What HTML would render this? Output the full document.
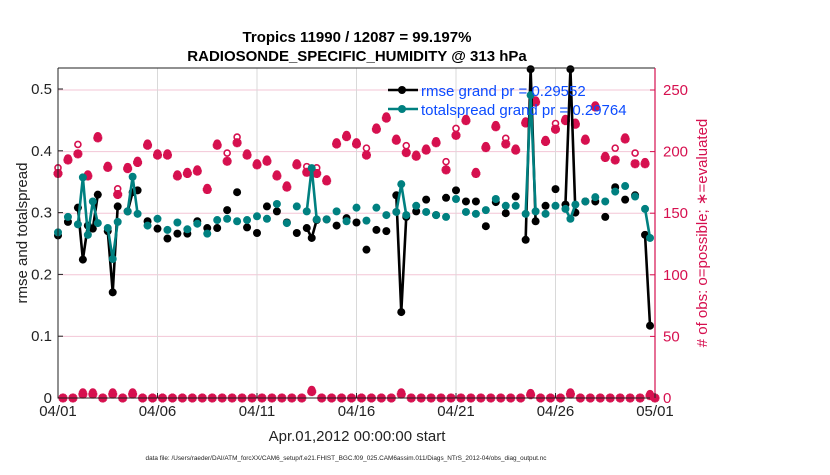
<!DOCTYPE html>
<html><head><meta charset="utf-8"><style>
body{margin:0;background:#fff;}
svg text{font-family:"Liberation Sans",sans-serif;}
</style></head><body>
<svg id="chart" width="830" height="470" xmlns="http://www.w3.org/2000/svg">
<rect width="830" height="470" fill="#fff"/>
<g id="grid"></g>
<g id="marks"></g>
<g id="axes"></g>
</svg>
<script>
// main series (days since 04/01 00Z)
const times = [0,0.5,1,1.25,1.5,1.75,2,2.5,2.75,3,3.5,3.75,4,4.5,5,5.5,6,6.5,7,7.5,8,8.5,9,9.5,10,10.5,11,11.5,12,12.5,12.75,13,13.5,14,14.5,15,15.5,16,16.5,17,17.25,17.5,18,18.5,19,19.5,20,20.5,21,21.5,22,22.5,23,23.5,23.75,24,24.5,25,25.5,25.75,26,26.5,27,27.5,28,28.5,29,29.5,29.75];
const rmse = [0.263,0.285,0.308,0.224,0.279,0.274,0.329,0.270,0.171,0.310,0.302,0.333,0.336,0.286,0.274,0.258,0.266,0.266,0.286,0.275,0.275,0.304,0.333,0.276,0.267,0.310,0.302,0.284,0.267,0.275,0.259,0.288,0.289,0.279,0.291,0.284,0.240,0.272,0.270,0.328,0.139,0.293,0.302,0.321,0.296,0.324,0.336,0.318,0.318,0.278,0.317,0.299,0.326,0.256,0.532,0.286,0.311,0.338,0.313,0.532,0.300,0.318,0.318,0.293,0.341,0.321,0.328,0.264,0.117];
const spread = [0.268,0.293,0.281,0.357,0.264,0.318,0.283,0.275,0.225,0.285,0.302,0.358,0.298,0.279,0.290,0.272,0.284,0.273,0.282,0.266,0.288,0.290,0.286,0.288,0.294,0.290,0.314,0.283,0.310,0.302,0.372,0.289,0.289,0.302,0.286,0.308,0.287,0.308,0.296,0.301,0.346,0.296,0.311,0.301,0.296,0.293,0.322,0.301,0.298,0.304,0.322,0.311,0.311,0.298,0.490,0.302,0.298,0.311,0.306,0.290,0.313,0.318,0.325,0.318,0.334,0.343,0.326,0.306,0.259];
const nPossible = [186,194,205,4,181,4,212,188,4,169,187,4,192,206,198,198,181,183,185,170,206,198,211,198,190,193,181,172,190,187,6,186,177,207,213,207,202,219,228,210,4,204,197,202,208,191,218,226,183,204,221,210,202,224,3.5,241,209,222,226,4,223,210,237,196,202,211,198,191,2.7];
const nUsed = [183,194,199,4,181,4,212,188,4,166,187,4,192,206,198,198,181,183,185,170,206,193,208,198,190,193,181,172,190,184,6,183,177,207,213,207,198,219,228,210,4,200,197,202,208,186,214,226,183,204,221,207,202,224,3.5,241,209,219,226,4,223,210,237,196,194,211,191,191,2.7];
// empty 6-hourly bins
const emptyTimes = [0.25,0.75,2.25,3.25,4.25,4.75,5.25,5.75,6.25,6.75,7.25,7.75,8.25,8.75,9.25,9.75,10.25,10.75,11.25,11.75,12.25,13.25,13.75,14.25,14.75,15.25,15.75,16.25,16.75,17.75,18.25,18.75,19.25,19.75,20.25,20.75,21.25,21.75,22.25,22.75,23.25,24.25,24.75,25.25,26.25,26.75,27.25,27.75,28.25,28.75,29.25,30];
const emptyCounts = emptyTimes.map(()=>0);
const xTickDays = [0,5,10,15,20,25,30];
const xTickLabels = ["04/01","04/06","04/11","04/16","04/21","04/26","05/01"];
const yTicks = [0,0.1,0.2,0.3,0.4,0.5];
const y2Ticks = [0,50,100,150,200,250];

const L=58,R=655,T=68,B=398;
const X=d=>L+d*(R-L)/30;
const Y=v=>B-v*(B-89)/0.5;
const Y2=c=>B-c*(B-90)/250;
const NS="http://www.w3.org/2000/svg";
function mk(tag,attrs,parent){const e=document.createElementNS(NS,tag);for(const k in attrs)e.setAttribute(k,attrs[k]);parent.appendChild(e);return e;}
const grid=document.getElementById('grid'),marks=document.getElementById('marks'),axes=document.getElementById('axes');
const PINK="#d6104f",TEAL="#008080";

y2Ticks.forEach(c=>{if(c>0){const g=mk('line',{x1:L,x2:R,y1:Y2(c),y2:Y2(c),stroke:'#f3c6d6','stroke-width':1},grid);

}});
xTickDays.forEach(d=>{if(d>0&&d<30){const g=mk('line',{x1:X(d),x2:X(d),y1:T,y2:B,stroke:'#d9d9d9','stroke-width':1},grid);

}});

function star(x,y,name){const g=mk('g',{},marks);


mk('path',{d:`M${x-4.5} ${y}H${x+4.5}M${x} ${y-4.5}V${y+4.5}M${x-3.2} ${y-3.2}L${x+3.2} ${y+3.2}M${x-3.2} ${y+3.2}L${x+3.2} ${y-3.2}`,stroke:PINK,'stroke-width':3},g);
mk('circle',{cx:x,cy:y,r:3.8,fill:PINK},g);}
times.forEach((t,i)=>{const c=mk('circle',{cx:X(t),cy:Y2(nPossible[i])-1,r:3,fill:'#fff',stroke:PINK,'stroke-width':1.6},marks);


star(X(t),Y2(nUsed[i])+1,'evaluated-marker');});
emptyTimes.forEach((t,i)=>{star(X(t),Y2(emptyCounts[i]),'empty-bin-marker');});

function series(vals,color,name){
  let d='';times.forEach((t,i)=>{const cont=i>0&&(t-times[i-1])<=0.26;d+=(cont?'L':'M')+X(t)+' '+Y(vals[i]);});
  const p=mk('path',{d:d,fill:'none',stroke:color,'stroke-width':2.6},marks);
  
  
  times.forEach((t,i)=>{const c=mk('circle',{cx:X(t),cy:Y(vals[i]),r:4,fill:color},marks);
  
  });
}
series(rmse,'#000','rmse');
series(spread,TEAL,'totalspread');

const fr=mk('path',{d:`M${L} ${T}V${B}H${R}M${L} ${T}H${R}`,fill:'none',stroke:'#222','stroke-width':1},axes);


const ra=mk('line',{x1:R,x2:R,y1:T,y2:B,stroke:PINK,'stroke-width':1.2},axes);


yTicks.forEach(v=>{mk('line',{x1:L,x2:L+5,y1:Y(v),y2:Y(v),stroke:'#222'},axes);
const t=mk('text',{x:L-6,y:Y(v)+5,'text-anchor':'end','font-size':15,fill:'#222'},axes);t.textContent=String(v);

});
y2Ticks.forEach(c=>{mk('line',{x1:R-5,x2:R,y1:Y2(c),y2:Y2(c),stroke:PINK},axes);
const t=mk('text',{x:R+8,y:Y2(c)+5,'font-size':15,fill:PINK},axes);t.textContent=String(c);

});
xTickDays.forEach((d,i)=>{mk('line',{x1:X(d),x2:X(d),y1:B-5,y2:B,stroke:'#222'},axes);
const t=mk('text',{x:X(d),y:416,'text-anchor':'middle','font-size':15,fill:'#222'},axes);t.textContent=xTickLabels[i];

});
</script>
<svg width="830" height="470" style="position:absolute;left:0;top:0;pointer-events:none" xmlns="http://www.w3.org/2000/svg">
<text x="357" y="42" text-anchor="middle" font-size="15" font-weight="bold">Tropics 11990 / 12087 = 99.197%</text>
<text x="357" y="61" text-anchor="middle" font-size="15" font-weight="bold">RADIOSONDE_SPECIFIC_HUMIDITY @ 313 hPa</text>
<text x="357" y="441" text-anchor="middle" font-size="15" fill="#222">Apr.01,2012 00:00:00 start</text>
<text transform="translate(27,233) rotate(-90)" text-anchor="middle" font-size="15" fill="#222">rmse and totalspread</text>
<text transform="translate(707,233) rotate(-90)" text-anchor="middle" font-size="15" fill="#d6104f"># of obs: o=possible; ∗=evaluated</text>
<text x="346" y="460" text-anchor="middle" font-size="6.4" fill="#222">data file: /Users/raeder/DAI/ATM_forcXX/CAM6_setup/f.e21.FHIST_BGC.f09_025.CAM6assim.011/Diags_NTrS_2012-04/obs_diag_output.nc</text>
<g>
<g><line x1="388" x2="418" y1="90" y2="90" stroke="#000" stroke-width="2.6"/><circle cx="402" cy="90" r="4" fill="#000"/>
<text x="421" y="96" font-size="15" fill="#0b4bff">rmse grand pr = 0.29552</text></g>
<g><line x1="388" x2="418" y1="109" y2="109" stroke="#008080" stroke-width="2.6"/><circle cx="402" cy="109" r="4" fill="#008080"/>
<text x="421" y="115" font-size="15" fill="#0b4bff">totalspread grand pr = 0.29764</text></g>
</g>
</svg>
</body></html>
